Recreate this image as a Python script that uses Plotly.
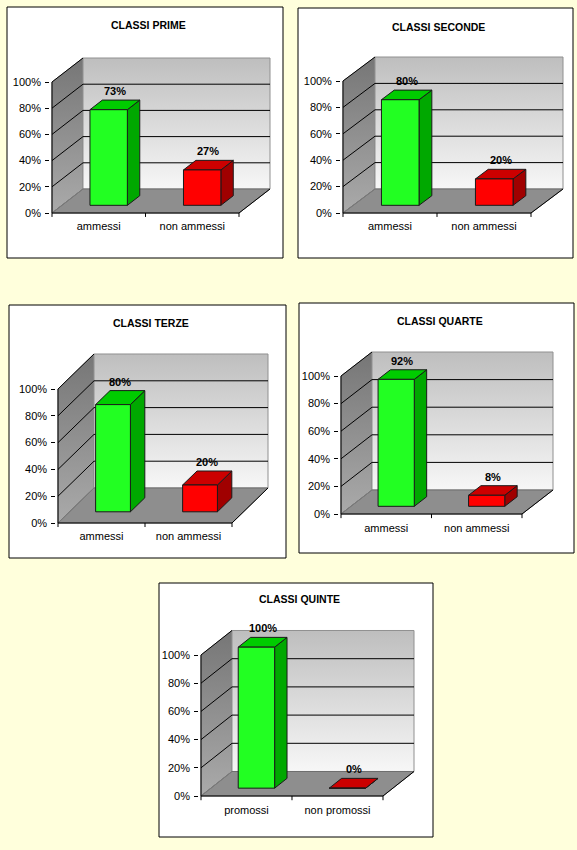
import plotly.graph_objects as go

panel_titles = ["CLASSI PRIME", "CLASSI SECONDE", "CLASSI TERZE", "CLASSI QUARTE", "CLASSI QUINTE"]
panel_categories = [
    ["ammessi", "non ammessi"],
    ["ammessi", "non ammessi"],
    ["ammessi", "non ammessi"],
    ["ammessi", "non ammessi"],
    ["promossi", "non promossi"],
]
passed_pct = [73, 80, 80, 92, 100]
failed_pct = [27, 20, 20, 8, 0]
y_ticks = [0, 20, 40, 60, 80, 100]

W, H = 577, 850
FONT = "Liberation Sans, Arial, sans-serif"

# pixel layout of each panel: frame box, title row, front origin of the axes,
# width of one category, pixels for 100%, depth of the back wall (right, up)
panels = [
    dict(frame=(7, 7, 283, 258), title_y=25, origin=(52, 213), cat_w=93.5, full=131, depth=(31, 24)),
    dict(frame=(298, 8, 573, 258), title_y=27, origin=(343, 213), cat_w=94, full=132, depth=(32, 24)),
    dict(frame=(9, 305, 286, 558), title_y=323, origin=(58, 523), cat_w=87, full=134, depth=(36, 35)),
    dict(frame=(299, 303, 574, 553), title_y=321, origin=(341, 514), cat_w=90.5, full=138, depth=(31, 24)),
    dict(frame=(159, 583, 433, 837), title_y=599, origin=(201, 796), cat_w=91, full=141, depth=(31, 24.5)),
]

# front / top / side colours of the two series
bar_colors = [
    ("#22ff22", "#00cc00", "#00a800"),
    ("#ff0000", "#cc0000", "#a00000"),
]
BAR_W = 0.40
Z0, Z1 = 0.32, 0.72


def px(x):
    return x / W


def py(y):
    return 1 - y / H


def poly(xs, ys, ax, fill, line_color, width=1, gradient=None):
    tr = go.Scatter(
        x=xs + [xs[0]], y=ys + [ys[0]], mode="lines", fill="toself",
        fillcolor=fill, line=dict(color=line_color, width=width),
        hoverinfo="skip", showlegend=False, xaxis=ax[0], yaxis=ax[1],
    )
    if gradient:
        tr.fillgradient = dict(type="vertical", colorscale=gradient)
    return tr


def segs(points, ax, color, width=1):
    xs, ys = [], []
    for (x0, y0), (x1, y1) in points:
        xs += [x0, x1, None]
        ys += [y0, y1, None]
    return go.Scatter(x=xs, y=ys, mode="lines", line=dict(color=color, width=width),
                      hoverinfo="skip", showlegend=False, xaxis=ax[0], yaxis=ax[1])


fig = go.Figure()
shapes, annotations = [], []

for k, p in enumerate(panels):
    n = k + 1
    ax = ("x" if n == 1 else f"x{n}", "y" if n == 1 else f"y{n}")
    ox, oy = p["origin"]
    ppu = p["full"] / 100
    ddx = p["depth"][0] / p["cat_w"]
    ddy = p["depth"][1] / ppu
    cats = panel_categories[k]
    nc = len(cats)
    values = [passed_pct[k], failed_pct[k]]

    xr = [-0.02, nc + ddx + 0.03]
    yr = [-4, 100 + ddy + 6]

    l, t, r, b = p["frame"]
    shapes.append(dict(type="rect", xref="paper", yref="paper", x0=px(l), x1=px(r),
                       y0=py(b), y1=py(t), fillcolor="white", line=dict(color="black", width=1),
                       layer="below"))
    annotations.append(dict(xref="paper", yref="paper", x=px((l + r) / 2 + 3), y=py(p["title_y"]),
                            text=f"<b>{panel_titles[k]}</b>", showarrow=False,
                            xanchor="center", yanchor="middle",
                            font=dict(family=FONT, size=10.5, color="black")))

    layout_x = "xaxis" if n == 1 else f"xaxis{n}"
    layout_y = "yaxis" if n == 1 else f"yaxis{n}"
    fig.update_layout({
        layout_x: dict(
            domain=[px(ox + xr[0] * p["cat_w"]), px(ox + xr[1] * p["cat_w"])],
            range=xr, anchor=ax[1], showgrid=False, zeroline=False, showline=False,
            tickvals=[i + 0.5 for i in range(nc)], ticktext=cats, ticks="",
            tickfont=dict(family=FONT, size=11, color="black"), fixedrange=True,
        ),
        layout_y: dict(
            domain=[py(oy - yr[0] * ppu), py(oy - yr[1] * ppu)],
            range=yr, anchor=ax[0], showgrid=False, zeroline=False, showline=False,
            tickvals=y_ticks, ticktext=[f"{v}%" for v in y_ticks], ticks="outside",
            ticklen=4, tickcolor="black", ticklabelstandoff=2,
            tickfont=dict(family=FONT, size=11, color="black"), fixedrange=True,
        ),
    })

    top = 100 + ddy
    # walls and floor
    fig.add_trace(poly([0, 0, ddx, ddx], [0, 100, top, ddy], ax, "#9a9a9a", "#808080",
                       gradient=[[0, "#aaaaaa"], [1, "#767676"]]))
    fig.add_trace(poly([ddx, ddx, nc + ddx, nc + ddx], [ddy, top, top, ddy], ax, "#dddddd", "#909090",
                       gradient=[[0, "#f7f7f7"], [1, "#bebebe"]]))
    fig.add_trace(poly([0, nc, nc + ddx, ddx], [0, 0, ddy, ddy], ax, "#8e8e8e", "#6e6e6e"))

    # gridlines on the side and back walls
    grid = []
    for v in y_ticks[1:]:
        grid.append(((0, v), (ddx, v + ddy)))
        if v < 100:
            grid.append(((ddx, v + ddy), (nc + ddx, v + ddy)))
    fig.add_trace(segs(grid, ax, "black"))
    fig.add_trace(segs([((0, 0), (ddx, ddy))], ax, "#7a7a7a"))

    # front axis edges and category ticks
    edges = [((0, 0), (0, 100)), ((0, 0), (nc, 0)), ((nc, 0), (nc + ddx, ddy))]
    edges += [((i, 0), (i, -3)) for i in range(nc + 1)]
    fig.add_trace(segs(edges, ax, "black"))

    # 3d bars
    for i, v in enumerate(values):
        front, topc, side = bar_colors[i]
        x0 = i + 0.5 - BAR_W / 2 + Z0 * ddx
        x1 = x0 + BAR_W
        y0 = Z0 * ddy
        sx = (Z1 - Z0) * ddx
        sy = (Z1 - Z0) * ddy
        fig.add_trace(poly([x1, x1, x1 + sx, x1 + sx], [y0, y0 + v, y0 + v + sy, y0 + sy], ax, side, "#1a1a1a"))
        fig.add_trace(poly([x0, x1, x1 + sx, x0 + sx], [y0 + v, y0 + v, y0 + v + sy, y0 + v + sy], ax, topc, "#1a1a1a"))
        fig.add_trace(poly([x0, x1, x1, x0], [y0, y0, y0 + v, y0 + v], ax, front, "#1a1a1a"))
        annotations.append(dict(xref=ax[0], yref=ax[1], x=(x0 + x1 + sx) / 2, y=y0 + v + sy,
                                yshift=9, xanchor="center", yanchor="middle", text=f"<b>{v}%</b>",
                                showarrow=False, font=dict(family=FONT, size=11, color="black")))

fig.update_layout(
    width=W, height=H, margin=dict(l=0, r=0, t=0, b=0),
    paper_bgcolor="#ffffdc", plot_bgcolor="rgba(0,0,0,0)",
    shapes=shapes, annotations=annotations, showlegend=False,
    font=dict(family=FONT, size=11, color="black"),
)

# the page body has a default 8px margin; drop it so the figure fills the window
fig.write_html("out.html", config={"displayModeBar": False},
               post_script="document.body.style.margin = '0px';")
